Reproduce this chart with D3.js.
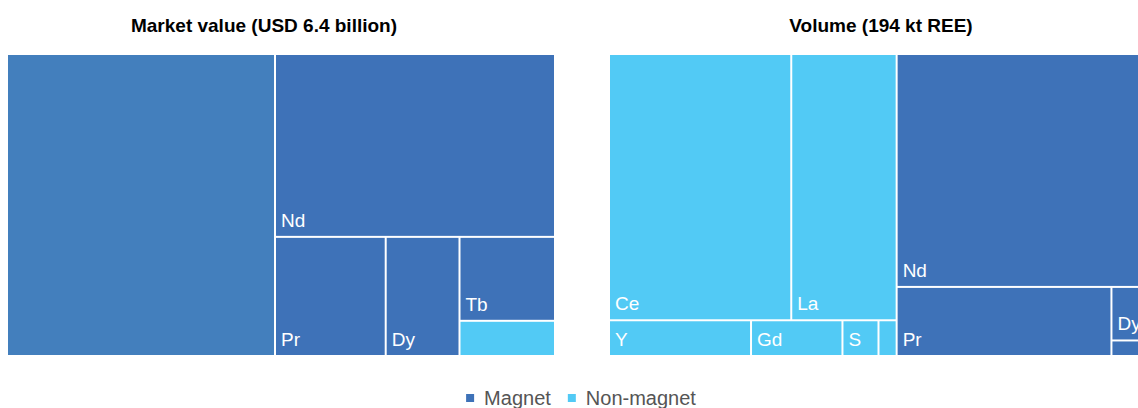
<!DOCTYPE html>
<html>
<head>
<meta charset="utf-8">
<script src="https://cdn.jsdelivr.net/npm/d3@7"></script>
<style>
  body { margin: 0; background: #fff; }
  svg { display: block; font-family: "Liberation Sans", Arial, sans-serif; }
</style>
</head>
<body>
<svg class="chart"></svg>
<script>
// market value, USD billion
var valueNames = ["", "Nd", "Pr", "Dy", "Tb", ""];
var valueGroups = ["Magnet", "Magnet", "Magnet", "Magnet", "Magnet", "Non-magnet"];
var valueAmounts = [3.13, 1.98, 0.51, 0.34, 0.31, 0.13];

// volume, kt REE
var volumeNames = ["Ce", "La", "Y", "Gd", "S", "", "Nd", "Pr", "Dy", ""];
var volumeGroups = ["Non-magnet", "Non-magnet", "Non-magnet", "Non-magnet", "Non-magnet", "Non-magnet",
                    "Magnet", "Magnet", "Magnet", "Magnet"];
var volumeAmounts = [56.9, 32.9, 5.95, 3.83, 1.51, 0.76, 71.1, 17.4, 2.86, 0.83];

var groups = ["Magnet", "Non-magnet"];
var titles = ["Market value (USD 6.4 billion)", "Volume (194 kt REE)"];

var width = 1138,
  height = 408,
  chartTop = 55,
  chartW = 546,
  chartH = 300,
  color = d3.scaleOrdinal().domain(groups).range(["#3e72b8", "#52caf5"]);

var svg = d3.select(".chart")
            .attr("width", width)
            .attr("height", height);

//left one is flat, right one keeps the two groups as parents
var charts = [
  {title: titles[0], names: valueNames, groups: valueGroups, amounts: valueAmounts,
   x: 8, titleX: 264, nested: false, ratio: 1, hover: 0},
  {title: titles[1], names: volumeNames, groups: volumeGroups, amounts: volumeAmounts,
   x: 610, titleX: 881, nested: true, ratio: (1 + Math.sqrt(5)) / 2, hover: -1}
];

charts.forEach(drawTreemap);
drawLegend();

function drawTreemap(cfg){
  var leaves = cfg.names.map(function(n, i){
    return {name: n, group: cfg.groups[i], value: cfg.amounts[i], index: i};
  });
  var data;
  if(cfg.nested){
    data = {children: groups.map(function(g){
      return {name: g, children: leaves.filter(function(d){ return d.group == g; })};
    })};
  } else {
    data = {children: leaves};
  }

  var root = d3.hierarchy(data)
               .sum(function(d){ return d.children ? 0 : d.value; })
               .sort(function(a, b){ return b.value - a.value; });

  d3.treemap()
    .size([chartW, chartH])
    .paddingInner(2)
    .tile(d3.treemapSquarify.ratio(cfg.ratio))(root);

  svg.append("text")
     .attr("x", cfg.titleX)
     .attr("y", 32)
     .attr("text-anchor", "middle")
     .style("font-size", "19px")
     .style("font-weight", "bold")
     .attr("fill", "#000")
     .text(cfg.title);

  var g = svg.append("g")
             .attr("transform", "translate(" + cfg.x + "," + chartTop + ")");

  var cell = g.selectAll(".cell")
              .data(root.leaves())
              .enter().append("g")
              .attr("class", "cell");

  cell.append("rect")
      .attr("x", function(d){ return d.x0; })
      .attr("y", function(d){ return d.y0; })
      .attr("width", function(d){ return d.x1 - d.x0; })
      .attr("height", function(d){ return d.y1 - d.y0; })
      .attr("fill", function(d){
        return d.data.index == cfg.hover ? "#437fbd" : color(d.data.group);
      });

  cell.filter(function(d){ return d.data.name != ""; })
      .append("text")
      .attr("x", function(d){ return d.x0 + 5; })
      .attr("y", function(d){ return d.y1 - 9; })
      .attr("fill", "#fff")
      .style("font-size", "19px")
      .text(function(d){ return d.data.name; });
}

function drawLegend(){
  var lg = svg.append("g");
  var xPos = 0;
  groups.forEach(function(name){
    var item = lg.append("g").attr("transform", "translate(" + xPos + ",0)");
    item.append("rect")
        .attr("x", 0).attr("y", -11)
        .attr("width", 8).attr("height", 8)
        .attr("fill", color(name));
    var t = item.append("text")
        .attr("x", 18).attr("y", 0)
        .attr("fill", "#555")
        .style("font-size", "20px")
        .text(name);
    xPos += 18 + t.node().getComputedTextLength() + 17;
  });
  var total = xPos - 17;
  lg.attr("transform", "translate(" + (581 - total / 2) + ",405)");
}
</script>
</body>
</html>
